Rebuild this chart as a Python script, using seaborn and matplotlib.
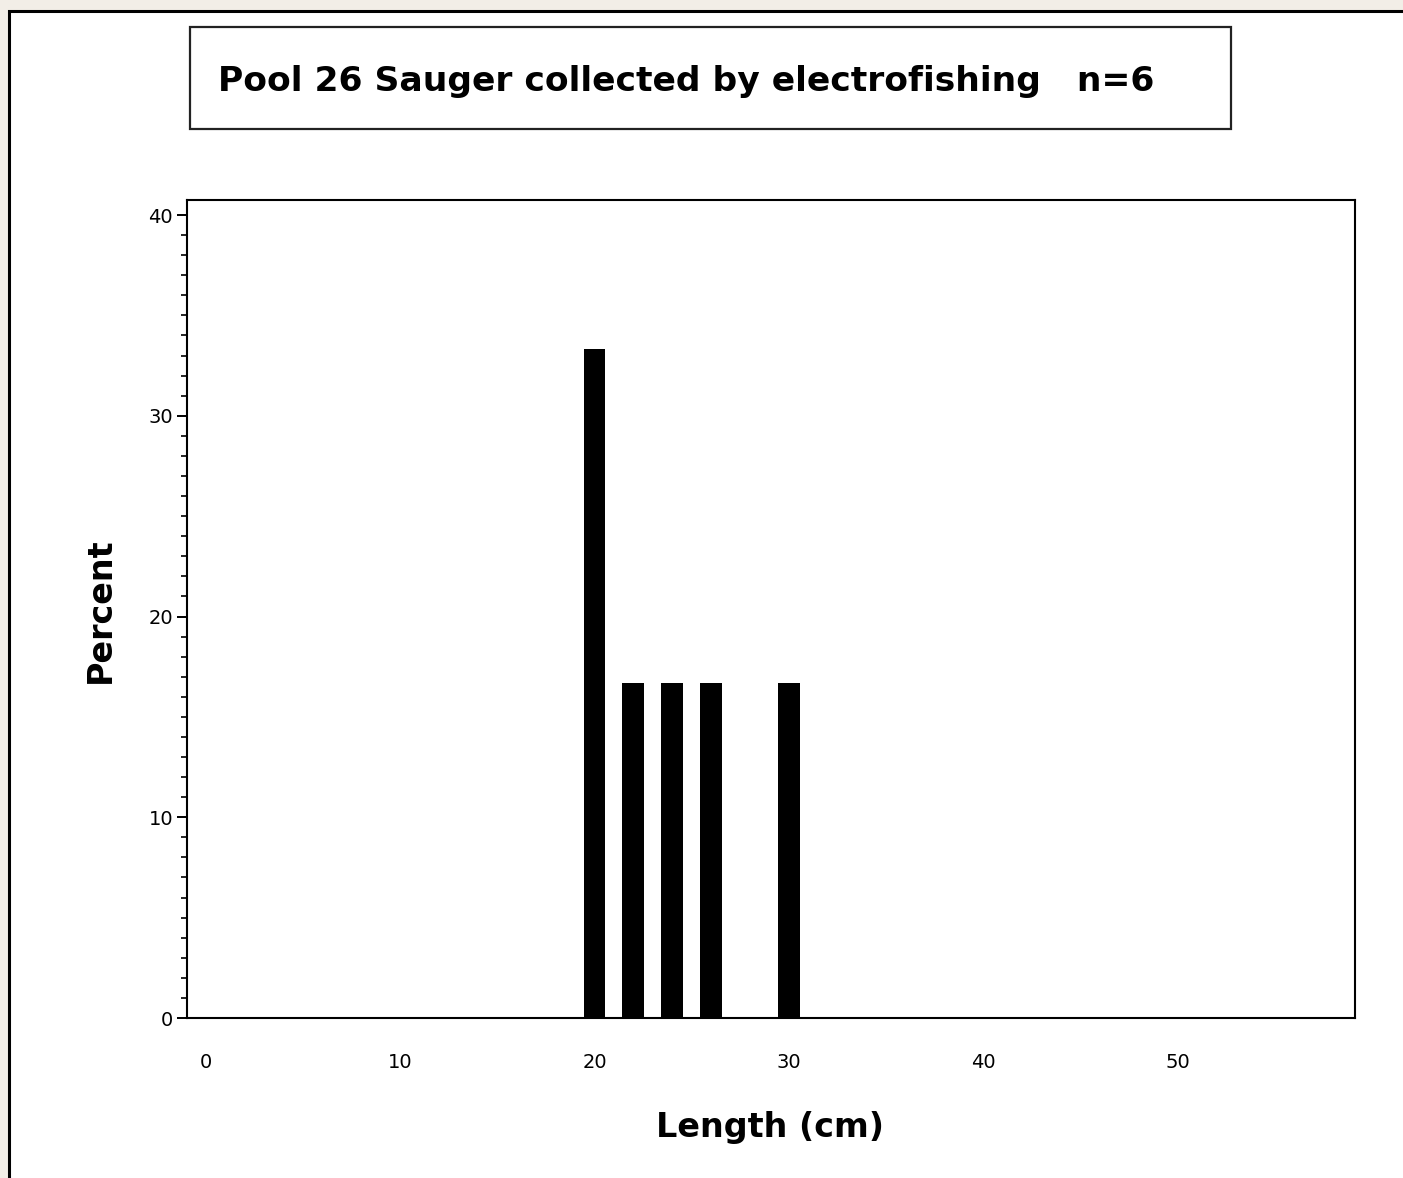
import matplotlib
matplotlib.use("Agg")
import matplotlib.pyplot as plt
from matplotlib.patches import Rectangle
from matplotlib.ticker import MultipleLocator
import seaborn as sns
import pandas as pd

lengths = [20, 22, 24, 26, 30]
percents = [33.33, 16.67, 16.67, 16.67, 16.67]
x_ticks = [0, 10, 20, 30, 40, 50]
y_ticks = [0, 10, 20, 30, 40]
title = "Pool 26 Sauger collected by electrofishing   n=6"
xlabel = "Length (cm)"
ylabel = "Percent"

sns.set_style("white")
plt.rcParams['font.family'] = ['DejaVu Sans']

W, H = 1403, 1178
fig = plt.figure(figsize=(W / 100, H / 100), dpi=100)
fig.patch.set_facecolor("#f2eee7")

def fx(px):
    return px / W

def fy(py):
    return 1 - py / H

# white panel with black border
panel = Rectangle((fx(9), fy(1190)), fx(1420) - fx(9), fy(11) - fy(1190),
                  transform=fig.transFigure, facecolor="white",
                  edgecolor="black", linewidth=2.2, zorder=-10)
fig.patches.append(panel)

# title box
tbox = Rectangle((fx(190), fy(129)), fx(1231) - fx(190), fy(27) - fy(129),
                 transform=fig.transFigure, facecolor="white",
                 edgecolor="#222222", linewidth=1.6, zorder=-5)
fig.patches.append(tbox)
fig.text(fx(218), fy(81), title, fontsize=24.8, fontweight="bold",
         ha="left", va="center", color="black")

ax = fig.add_axes([fx(187), fy(1018), fx(1355) - fx(187), fy(200) - fy(1018)])
ax.set_zorder(2)
df = pd.DataFrame({"length": lengths, "percent": percents})
sns.barplot(data=df, x="length", y="percent", native_scale=True, width=0.56,
            color="black", linewidth=0, saturation=1, ax=ax)

ax.set_xlim(-0.95, 59.1)
ax.set_ylim(0, 40.75)
ax.set_xticks(x_ticks)
ax.set_xticklabels([str(v) for v in x_ticks])
ax.set_yticks(y_ticks)
ax.set_yticklabels([str(v) for v in y_ticks])
ax.yaxis.set_minor_locator(MultipleLocator(1))
ax.tick_params(axis="x", length=0, pad=25, labelsize=14, labelcolor="black")
ax.tick_params(axis="y", which="major", length=7, width=1.4, pad=3,
               labelsize=14, left=True, direction="out", color="black",
               labelcolor="black")
ax.tick_params(axis="y", which="minor", length=4, width=1.2, left=True,
               direction="out", color="black")
ax.set_xlabel("")
ax.set_ylabel("")
for s in ax.spines.values():
    s.set_visible(True)
    s.set_color("black")
    s.set_linewidth(1.5)
ax.set_facecolor("white")

fig.text(fx(770), fy(1127), xlabel, fontsize=24, fontweight="bold",
         ha="center", va="center", color="black")
fig.text(fx(100), fy(610), ylabel, fontsize=24, fontweight="bold",
         ha="center", va="center", rotation=90, color="black")

fig.savefig("out.png", dpi=100, facecolor=fig.get_facecolor())
